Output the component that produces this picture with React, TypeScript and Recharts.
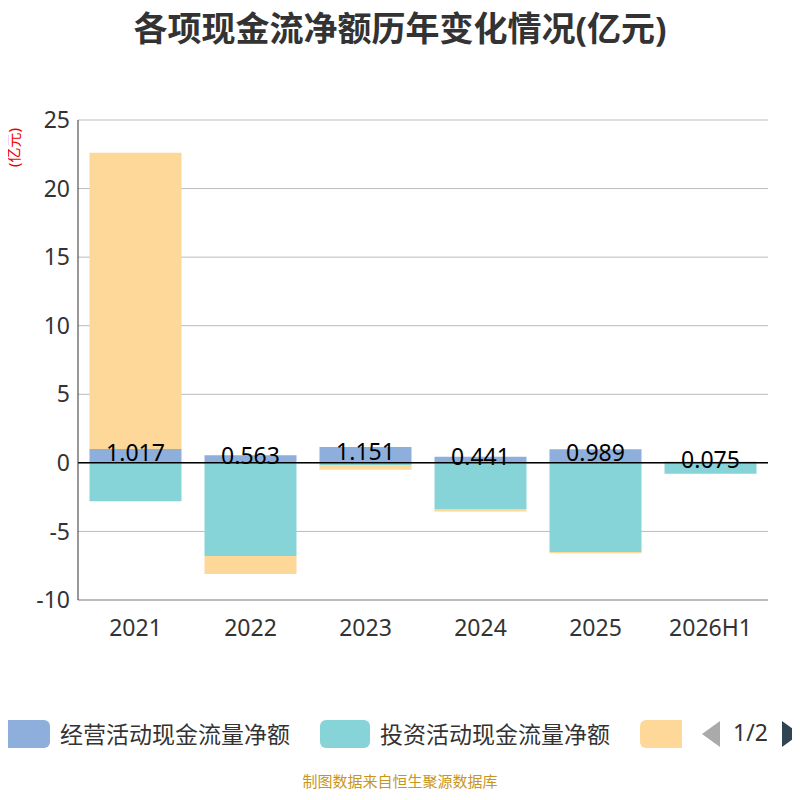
import { BarChart, Bar, XAxis, YAxis, CartesianGrid, ReferenceLine, LabelList } from 'recharts';

const YEARS = ['2021', '2022', '2023', '2024', '2025', '2026H1'];
const OPERATING = [1.017, 0.563, 1.151, 0.441, 0.989, 0.075];
const INVESTING = [-2.8, -6.8, -0.2, -3.4, -6.5, -0.8];
const FINANCING = [21.6, -1.3, -0.3, -0.15, -0.1, 0];
const Y_TICKS = [-10, -5, 0, 5, 10, 15, 20, 25];

const chartData = YEARS.map((year, i) => ({
  year,
  op: OPERATING[i],
  inv: INVESTING[i],
  fin: FINANCING[i],
}));

const FONT = '"Noto Sans", "Noto Sans CJK SC", sans-serif';

const abs = (left: number, extra: object = {}) => ({ position: 'absolute' as const, left, ...extra });

export default function App() {
  return (
    <div style={{ position: 'relative', width: 800, height: 800, margin: -8, fontFamily: FONT, background: '#fff', overflow: 'hidden' }}>
      <div style={{ position: 'absolute', top: 2, width: 800, textAlign: 'center', fontSize: 34, fontWeight: 'bold', color: '#333' }}>
        各项现金流净额历年变化情况(亿元)
      </div>
      <div style={{ position: 'absolute', left: -7, top: 137, fontSize: 15, color: '#e00', transform: 'rotate(-90deg)', whiteSpace: 'nowrap' }}>
        (亿元)
      </div>
      <div style={{ position: 'absolute', top: 0, left: 0 }}>
        <BarChart width={800} height={660} data={chartData} stackOffset="sign" barCategoryGap="10%"
          margin={{ top: 120, right: 32, bottom: 0, left: 28 }}>
          <CartesianGrid vertical={false} stroke="#bbb" />
          <XAxis dataKey="year" height={60} tickLine={false} axisLine={{ stroke: '#999' }}
            tick={{ fill: '#333', fontSize: 23, dy: 12 }} />
          <YAxis width={50} domain={[-10, 25]} ticks={Y_TICKS} tickLine={false} axisLine={{ stroke: '#333' }}
            tick={{ fill: '#333', fontSize: 23 }} />
          <Bar dataKey="op" stackId="a" fill="#8eaedb" isAnimationActive={false}>
            <LabelList dataKey="op" position="center" fill="#000" fontSize={23} dy={-3} />
          </Bar>
          <Bar dataKey="inv" stackId="a" fill="#86d4d8" isAnimationActive={false} />
          <Bar dataKey="fin" stackId="a" fill="#fdd898" isAnimationActive={false} />
          <ReferenceLine y={0} stroke="#000" strokeWidth={1.5} />
        </BarChart>
      </div>
      <div style={{ position: 'absolute', top: 716, left: 0, width: 800, height: 36, fontSize: 23, color: '#333', whiteSpace: 'nowrap' }}>
        <span style={abs(0, { top: 4, width: 50, height: 28, borderRadius: 6, background: '#8eaedb' })} />
        <span style={abs(60, { top: 0 })}>经营活动现金流量净额</span>
        <span style={abs(320, { top: 4, width: 50, height: 28, borderRadius: 6, background: '#86d4d8' })} />
        <span style={abs(380, { top: 0 })}>投资活动现金流量净额</span>
        <span style={abs(640, { top: 4, width: 42, height: 28, borderRadius: '6px 0 0 6px', background: '#fdd898' })} />
        <span style={abs(702, { top: 5, width: 0, height: 0, borderTop: '13px solid transparent', borderBottom: '13px solid transparent', borderRight: '18px solid #aaa' })} />
        <span style={abs(733, { top: 0 })}>1/2</span>
        <span style={abs(782, { top: 5, width: 0, height: 0, borderTop: '13px solid transparent', borderBottom: '13px solid transparent', borderLeft: '18px solid #2f4554' })} />
      </div>
      <div style={{ position: 'absolute', top: 770, width: 800, textAlign: 'center', fontSize: 15, color: '#c8961e' }}>
        制图数据来自恒生聚源数据库
      </div>
    </div>
  );
}
